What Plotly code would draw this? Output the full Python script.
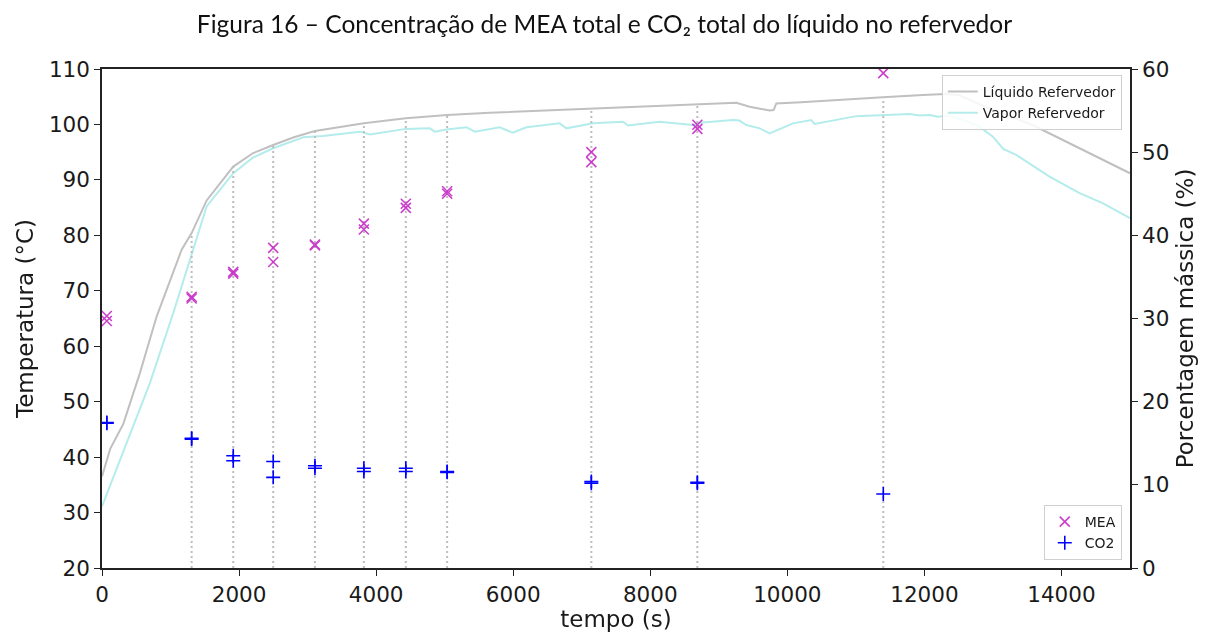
import numpy as np
import plotly.graph_objects as go

# Temperatura do líquido no refervedor (°C) ao longo do tempo (s)
t_liquido = [0, 120, 311, 554, 798, 1040, 1162, 1308, 1527, 1915, 2200, 2498, 2800,
             3107, 3400, 3821, 4433, 5036, 5658, 6679, 7140, 7800, 8673, 9000, 9256,
             9450, 9596, 9742, 9800, 9839, 10200, 10568, 11000, 11394, 11978, 12300,
             12500, 13000, 13578, 14000, 14500, 15000]
T_liquido = [36.5, 41.5, 46.0, 55.2, 65.4, 73.2, 77.4, 80.4, 86.3, 92.4, 94.8, 96.3, 97.7,
             98.8, 99.4, 100.2, 101.1, 101.7, 102.1, 102.6, 102.9, 103.2, 103.6, 103.8, 103.9,
             103.2, 102.8, 102.5, 102.6, 103.8, 104.0, 104.3, 104.6, 104.9, 105.3, 105.5,
             105.3, 102.6, 99.9, 97.3, 94.3, 91.2]

# Temperatura do vapor no refervedor (°C)
t_vapor = [0, 700, 1040, 1308, 1527, 1915, 2200, 2498, 2936, 3225, 3763, 3908, 4200,
           4433, 4783, 4856, 5027, 5318, 5440, 5804, 5994, 6194, 6679, 6776, 7164, 7600,
           7675, 8137, 8623, 8720, 9207, 9300, 9402, 9596, 9742, 10082, 10350, 10398,
           11006, 11394, 11783, 11929, 12075, 12200, 12350, 12550, 12800, 13000, 13080,
           13150, 13340, 13826, 14264, 14600, 15000]
T_vapor = [31.1, 53.4, 66.0, 76.8, 85.2, 91.2, 94.0, 95.7, 97.7, 97.9, 98.7, 98.2, 98.7,
           99.2, 99.3, 98.7, 99.1, 99.5, 98.7, 99.5, 98.5, 99.5, 100.2, 99.3, 100.2, 100.5,
           99.8, 100.5, 99.9, 100.3, 100.8, 100.7, 99.9, 99.3, 98.4, 100.2, 100.8, 100.1,
           101.5, 101.7, 101.9, 101.6, 101.7, 101.4, 101.6, 100.9, 99.6, 97.8, 96.6,
           95.6, 94.5, 90.6, 87.6, 85.8, 83.1]

# Amostras do líquido: tempo (s) e porcentagem mássica (%)
t_amostra = [70, 70, 1308, 1308, 1915, 1915, 2498, 2498, 3107, 3107, 3821, 3821,
             4433, 4433, 5036, 5036, 7140, 7140, 8687, 8687, 11400]
mea = [30.3, 29.7, 32.6, 32.4, 35.6, 35.4, 38.5, 36.8, 38.9, 38.8, 41.4, 40.7,
       43.8, 43.3, 45.3, 45.0, 50.0, 48.8, 53.3, 52.8, 59.5]
co2 = [17.5, 17.4, 15.6, 15.5, 13.5, 12.9, 12.8, 10.9, 12.3, 12.0, 12.0, 11.6,
       12.0, 11.6, 11.6, 11.5, 10.4, 10.2, 10.3, 10.2, 8.9]

# Instantes de coleta marcados com linhas verticais
t_coleta = [1308, 1915, 2498, 3107, 3821, 4433, 5036, 7140, 8687, 11400]

x_ticks = list(range(0, 14001, 2000))
x_labels = [str(v) for v in x_ticks]
T_ticks = list(range(20, 111, 10))
p_ticks = list(range(0, 61, 10))

FONT = "DejaVu Sans"
INK = "#1a1a1a"

fig = go.Figure()

fig.add_trace(go.Scatter(
    x=t_liquido, y=T_liquido, mode="lines", name="Líquido Refervedor",
    line=dict(color="#c0c0c0", width=2), legend="legend", yaxis="y"))
fig.add_trace(go.Scatter(
    x=t_vapor, y=T_vapor, mode="lines", name="Vapor Refervedor",
    line=dict(color="#b4ecec", width=2), legend="legend", yaxis="y"))

# linhas pontilhadas do eixo até a temperatura do líquido em cada coleta
T_topo = np.interp(t_coleta, t_liquido, T_liquido)
vx, vy = [], []
for t, T in zip(t_coleta, T_topo):
    vx += [t, t, None]
    vy += [20, float(T), None]
fig.add_trace(go.Scatter(
    x=vx, y=vy, mode="lines", showlegend=False, hoverinfo="skip",
    line=dict(color="#bdbdbd", width=2, dash="2px,3px"), yaxis="y"))

fig.add_trace(go.Scatter(
    x=t_amostra, y=mea, mode="markers", name="MEA", yaxis="y2", legend="legend2",
    marker=dict(symbol="x-thin", size=10, color="#c21fc2",
                line=dict(color="#c21fc2", width=1.6)), opacity=0.85))
fig.add_trace(go.Scatter(
    x=t_amostra, y=co2, mode="markers", name="CO2", yaxis="y2", legend="legend2",
    marker=dict(symbol="cross-thin", size=10, color="#0000ff",
                line=dict(color="#0000ff", width=1.6))))

axis_common = dict(
    showline=True, linecolor="#222", linewidth=1.5, ticks="outside", ticklen=6,
    tickwidth=1.3, tickcolor="#222", showgrid=False, zeroline=False,
    automargin=False,
    tickfont=dict(family=FONT, size=21.5, color=INK),
)
title_font = dict(family=FONT, size=23, color=INK)

fig.update_layout(
    width=1209, height=632,
    margin=dict(l=102, r=79, t=69, b=64),
    paper_bgcolor="white", plot_bgcolor="white",
    title=dict(
        text="Figura 16 – Concentração de MEA total e CO₂ total do líquido no refervedor",
        font=dict(family="Lato, Noto Sans", size=24.5, color="#111"),
        x=0.5, xanchor="center", y=0.962, yanchor="middle"),
    xaxis=dict(
        range=[0, 15000], tickvals=x_ticks, ticktext=x_labels, mirror=True,
        title=dict(text="tempo (s)", font=title_font, standoff=5),
        **axis_common),
    yaxis=dict(
        range=[20, 110], tickvals=T_ticks,
        title=dict(text="Temperatura (°C)", font=title_font, standoff=9),
        **axis_common),
    yaxis2=dict(
        range=[0, 60], tickvals=p_ticks, overlaying="y", side="right",
        title=dict(text="Porcentagem mássica (%)", font=title_font, standoff=8),
        **axis_common),
    legend=dict(
        x=0.992, y=0.988, xanchor="right", yanchor="top",
        bgcolor="rgba(255,255,255,0.85)", bordercolor="#d0d0d0", borderwidth=1,
        font=dict(family=FONT, size=14, color=INK), itemwidth=30,
        tracegroupgap=0),
    legend2=dict(
        x=0.992, y=0.016, xanchor="right", yanchor="bottom",
        bgcolor="rgba(255,255,255,0.85)", bordercolor="#d0d0d0", borderwidth=1,
        font=dict(family=FONT, size=14, color=INK), itemwidth=30,
        tracegroupgap=0),
)

fig.write_html("out.html")
